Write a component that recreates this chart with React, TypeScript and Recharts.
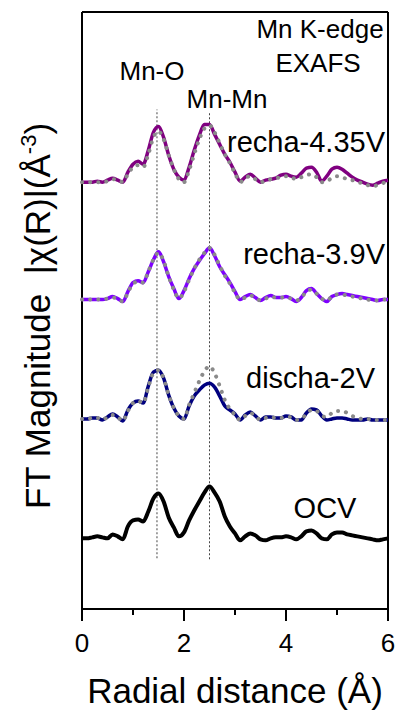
import React from "react";
import { LineChart, Line, XAxis, YAxis, ReferenceLine } from "recharts";

// R grid (Å) shared by every spectrum
const rGrid = [
  0, 0.1, 0.2, 0.3, 0.4, 0.5, 0.6, 0.7, 0.8, 0.9,
  1.0, 1.1, 1.2, 1.3, 1.4, 1.5, 1.6, 1.7, 1.8, 1.9,
  2.0, 2.1, 2.2, 2.3, 2.4, 2.5, 2.6, 2.7, 2.8, 2.9,
  3.0, 3.1, 3.2, 3.3, 3.4, 3.5, 3.6, 3.7, 3.8, 3.9,
  4.0, 4.1, 4.2, 4.3, 4.4, 4.5, 4.6, 4.7, 4.8, 4.9,
  5.0, 5.1, 5.2, 5.3, 5.4, 5.5, 5.6, 5.7, 5.8, 5.9, 6.0,
];

// |χ(R)| magnitudes (arb. units), before vertical stacking
const ocvExp = [
  0.10, 0.10, 0.11, 0.12, 0.11, 0.10, 0.14, 0.12, 0.09, 0.22,
  0.28, 0.29, 0.27, 0.37, 0.50, 0.55, 0.47, 0.31, 0.21, 0.12,
  0.16, 0.28, 0.38, 0.47, 0.56, 0.62, 0.56, 0.47, 0.32, 0.22,
  0.15, 0.08, 0.12, 0.15, 0.13, 0.09, 0.08, 0.10, 0.11, 0.11,
  0.12, 0.11, 0.09, 0.12, 0.17, 0.18, 0.15, 0.10, 0.09, 0.14,
  0.16, 0.16, 0.14, 0.13, 0.12, 0.11, 0.10, 0.09, 0.08, 0.09, 0.10,
];

const dischaExp = [
  0.10, 0.10, 0.11, 0.11, 0.09, 0.12, 0.15, 0.12, 0.08, 0.19,
  0.26, 0.28, 0.26, 0.43, 0.57, 0.59, 0.51, 0.34, 0.21, 0.13,
  0.10, 0.23, 0.33, 0.39, 0.44, 0.46, 0.42, 0.33, 0.23, 0.19,
  0.15, 0.09, 0.14, 0.17, 0.13, 0.09, 0.12, 0.12, 0.11, 0.11,
  0.13, 0.12, 0.09, 0.09, 0.16, 0.20, 0.19, 0.13, 0.09, 0.10,
  0.11, 0.11, 0.10, 0.09, 0.09, 0.09, 0.10, 0.09, 0.09, 0.09, 0.09,
];

const dischaFit = [
  0.10, 0.10, 0.11, 0.11, 0.09, 0.12, 0.14, 0.12, 0.08, 0.18,
  0.26, 0.28, 0.26, 0.42, 0.56, 0.59, 0.51, 0.34, 0.21, 0.13,
  0.10, 0.24, 0.36, 0.48, 0.58, 0.63, 0.56, 0.43, 0.29, 0.20,
  0.14, 0.09, 0.13, 0.16, 0.13, 0.09, 0.11, 0.12, 0.11, 0.11,
  0.12, 0.12, 0.09, 0.10, 0.15, 0.19, 0.18, 0.13, 0.12, 0.16,
  0.18, 0.18, 0.16, 0.13, 0.11, 0.10, 0.10, 0.09, 0.09, 0.09, 0.09,
];

const recha39Exp = [
  0.10, 0.10, 0.10, 0.10, 0.10, 0.11, 0.13, 0.11, 0.08, 0.18,
  0.27, 0.29, 0.27, 0.38, 0.50, 0.58, 0.48, 0.33, 0.21, 0.11,
  0.19, 0.31, 0.41, 0.49, 0.56, 0.62, 0.54, 0.43, 0.35, 0.27,
  0.18, 0.10, 0.13, 0.15, 0.12, 0.09, 0.12, 0.14, 0.12, 0.12,
  0.13, 0.11, 0.08, 0.12, 0.19, 0.21, 0.16, 0.11, 0.08, 0.13,
  0.15, 0.16, 0.15, 0.14, 0.13, 0.12, 0.11, 0.10, 0.09, 0.10, 0.10,
];

const recha39Fit = [
  0.10, 0.10, 0.10, 0.10, 0.10, 0.11, 0.12, 0.11, 0.08, 0.17,
  0.26, 0.28, 0.27, 0.38, 0.50, 0.57, 0.49, 0.33, 0.20, 0.11,
  0.18, 0.30, 0.41, 0.50, 0.57, 0.62, 0.55, 0.44, 0.34, 0.26,
  0.17, 0.10, 0.12, 0.14, 0.12, 0.09, 0.11, 0.13, 0.12, 0.12,
  0.12, 0.11, 0.09, 0.12, 0.18, 0.20, 0.16, 0.11, 0.09, 0.13,
  0.15, 0.15, 0.14, 0.13, 0.12, 0.11, 0.10, 0.09, 0.09, 0.10, 0.10,
];

const recha435Exp = [
  0.10, 0.10, 0.10, 0.11, 0.10, 0.12, 0.14, 0.12, 0.10, 0.20,
  0.28, 0.31, 0.28, 0.42, 0.60, 0.66, 0.55, 0.37, 0.23, 0.15,
  0.12, 0.25, 0.42, 0.57, 0.68, 0.68, 0.58, 0.48, 0.38, 0.30,
  0.20, 0.11, 0.15, 0.18, 0.14, 0.10, 0.12, 0.13, 0.14, 0.17,
  0.18, 0.16, 0.15, 0.19, 0.24, 0.25, 0.20, 0.11, 0.16, 0.23,
  0.25, 0.23, 0.19, 0.15, 0.12, 0.10, 0.08, 0.07, 0.09, 0.11, 0.12,
];

const recha435Fit = [
  0.10, 0.10, 0.10, 0.10, 0.10, 0.11, 0.13, 0.12, 0.10, 0.18,
  0.25, 0.27, 0.25, 0.38, 0.55, 0.61, 0.53, 0.37, 0.23, 0.13,
  0.10, 0.22, 0.38, 0.53, 0.64, 0.67, 0.60, 0.49, 0.38, 0.29,
  0.19, 0.10, 0.14, 0.16, 0.13, 0.10, 0.11, 0.13, 0.14, 0.15,
  0.16, 0.15, 0.13, 0.15, 0.17, 0.18, 0.15, 0.10, 0.11, 0.14,
  0.16, 0.15, 0.13, 0.12, 0.10, 0.09, 0.07, 0.06, 0.07, 0.09, 0.11,
];

// vertical stacking offsets
const offsets = { ocv: 0.61, discha: 1.81, recha39: 3.01, recha435: 4.19 };

// peak positions marked by dotted guides
const mnO = 1.47;
const mnMn = 2.5;

const data = rGrid.map((r, i) => ({
  r,
  ocv: ocvExp[i] + offsets.ocv,
  dischaExp: dischaExp[i] + offsets.discha,
  dischaFit: dischaFit[i] + offsets.discha,
  recha39Exp: recha39Exp[i] + offsets.recha39,
  recha39Fit: recha39Fit[i] + offsets.recha39,
  recha435Exp: recha435Exp[i] + offsets.recha435,
  recha435Fit: recha435Fit[i] + offsets.recha435,
}));

const FONT = "'Liberation Sans', Arial, sans-serif";

function RTick(props: any) {
  const { x, y, payload } = props;
  const major = payload.value % 2 === 0;
  return (
    <g>
      <line x1={x} x2={x} y1={y} y2={y + (major ? 12 : 6)} stroke="#000" strokeWidth={2} />
      {major && (
        <text x={x} y={y + 43} textAnchor="middle" fontSize={26} fontFamily={FONT} fill="#000">
          {payload.value}
        </text>
      )}
    </g>
  );
}

const fitStyle = {
  stroke: "#8a8a8a",
  strokeWidth: 4,
  strokeDasharray: "0.1 8",
  strokeLinecap: "round" as const,
};

export default function App() {
  return (
    <div style={{ position: "absolute", left: 0, top: 0, width: 400, height: 713, background: "#fff" }}>
      <LineChart
        width={400}
        height={713}
        data={data}
        margin={{ top: 12, right: 12, left: 82, bottom: 44 }}
      >
        <XAxis
          dataKey="r"
          type="number"
          domain={[0, 6]}
          ticks={[0, 1, 2, 3, 4, 5, 6]}
          height={60}
          tickSize={0}
          tickMargin={0}
          tickLine={false}
          axisLine={{ stroke: "#000", strokeWidth: 2 }}
          tick={<RTick />}
          interval={0}
        />
        <YAxis hide type="number" domain={[0, 6]} />

        {/* left, right and top edges of the frame */}
        <ReferenceLine x={0} stroke="#000" strokeWidth={2} />
        <ReferenceLine x={6} stroke="#000" strokeWidth={2} />
        <ReferenceLine y={6} stroke="#000" strokeWidth={2} />

        <ReferenceLine
          segment={[{ x: mnO, y: 0.51 }, { x: mnO, y: 5.02 }]}
          stroke="#444"
          strokeWidth={1}
          strokeDasharray="2 2"
        />
        <ReferenceLine
          segment={[{ x: mnMn, y: 0.5 }, { x: mnMn, y: 4.99 }]}
          stroke="#444"
          strokeWidth={1}
          strokeDasharray="2 2"
        />

        <Line type="monotone" dataKey="ocv" stroke="#000" strokeWidth={4} dot={false} isAnimationActive={false} />
        <Line type="monotone" dataKey="dischaExp" stroke="#00007f" strokeWidth={3.5} dot={false} isAnimationActive={false} />
        <Line type="monotone" dataKey="dischaFit" {...fitStyle} dot={false} isAnimationActive={false} />
        <Line type="monotone" dataKey="recha39Exp" stroke="#7f00ff" strokeWidth={3.5} dot={false} isAnimationActive={false} />
        <Line type="monotone" dataKey="recha39Fit" {...fitStyle} dot={false} isAnimationActive={false} />
        <Line type="monotone" dataKey="recha435Exp" stroke="#800080" strokeWidth={3.5} dot={false} isAnimationActive={false} />
        <Line type="monotone" dataKey="recha435Fit" {...fitStyle} dot={false} isAnimationActive={false} />

        <g fontFamily={FONT} fill="#000">
          <text x={320} y={38} textAnchor="middle" fontSize={26}>Mn K-edge</text>
          <text x={318} y={72} textAnchor="middle" fontSize={26}>EXAFS</text>
          <text x={152} y={80} textAnchor="middle" fontSize={26}>Mn-O</text>
          <text x={227} y={108} textAnchor="middle" fontSize={26}>Mn-Mn</text>
          <text x={385} y={152} textAnchor="end" fontSize={29}>recha-4.35V</text>
          <text x={385} y={264} textAnchor="end" fontSize={29}>recha-3.9V</text>
          <text x={375} y={388} textAnchor="end" fontSize={29}>discha-2V</text>
          <text x={325} y={518} textAnchor="middle" fontSize={29}>OCV</text>
          <text x={235} y={703} textAnchor="middle" fontSize={35}>Radial distance (Å)</text>
          <text transform="translate(50,316) rotate(-90)" textAnchor="middle" fontSize={35}>
            {"FT Magnitude\u00A0\u00A0|χ(R)|(Å"}
            <tspan fontSize={22} dy={-14}>-3</tspan>
            <tspan dy={14}>)</tspan>
          </text>
        </g>
      </LineChart>
    </div>
  );
}
